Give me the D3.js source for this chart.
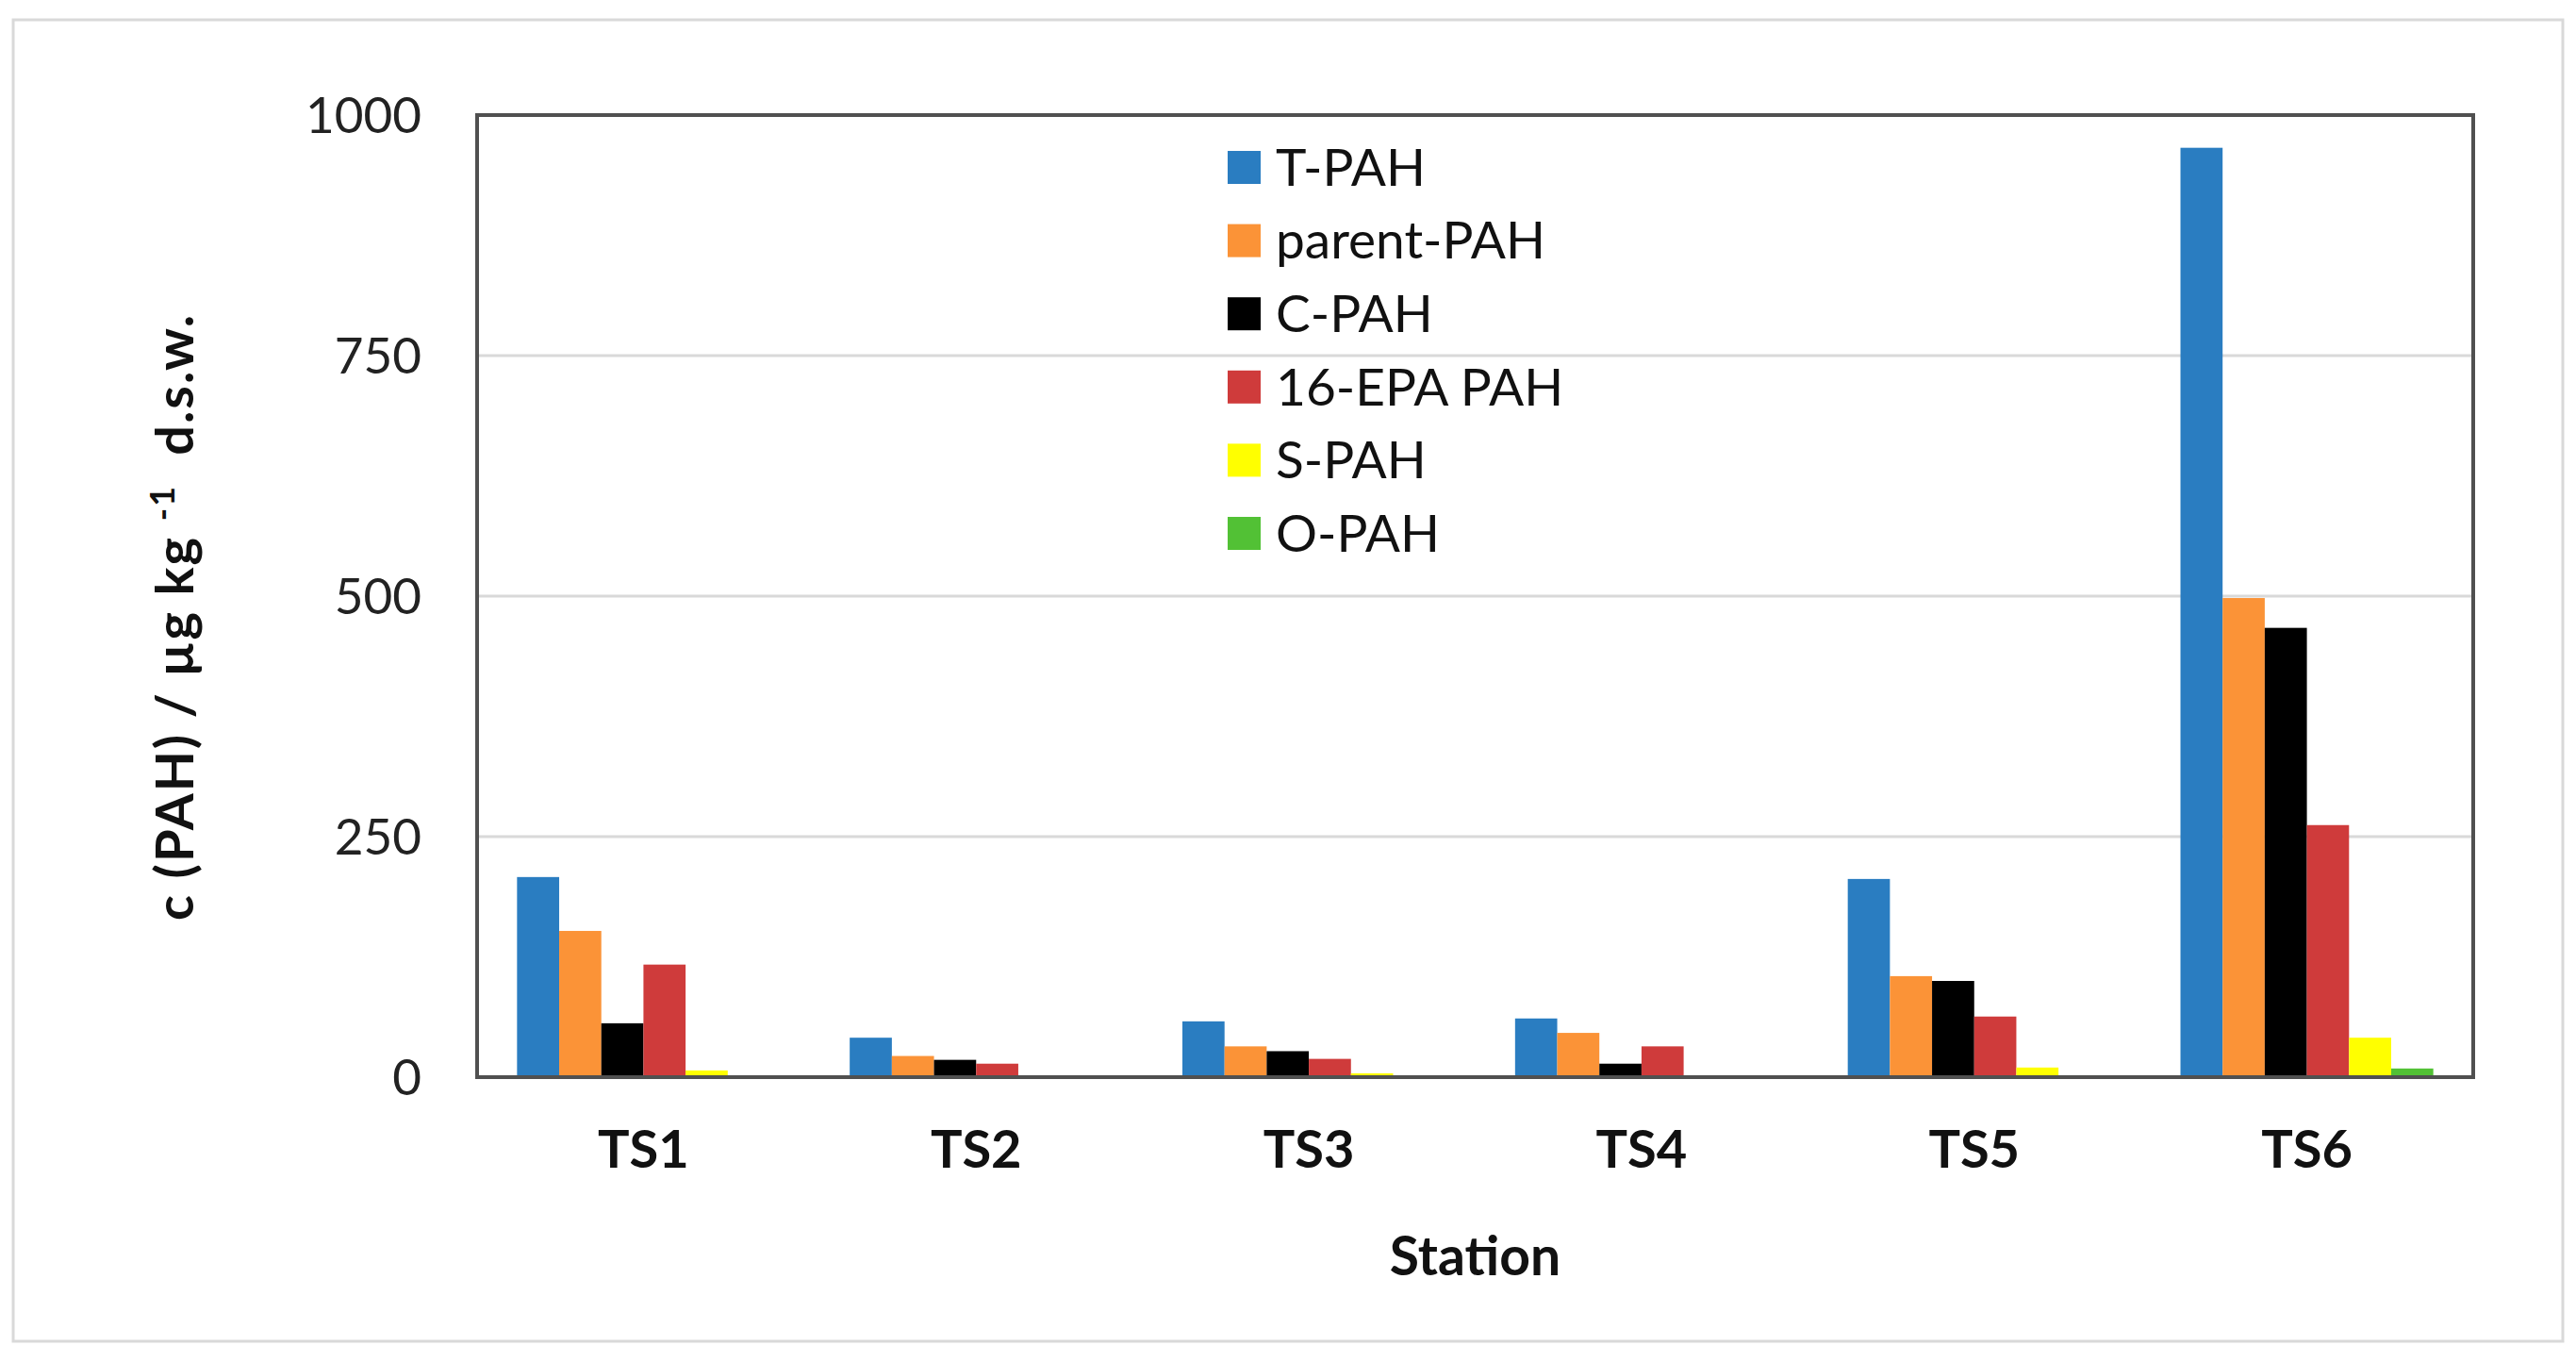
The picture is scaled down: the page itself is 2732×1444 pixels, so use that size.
<!DOCTYPE html>
<html><head><meta charset="utf-8">
<script src="https://cdn.jsdelivr.net/npm/d3@7"></script>
<style>html,body{margin:0;padding:0;background:#fff;}svg{display:block;}</style>
</head><body>
<script>
const stations = ["TS1","TS2","TS3","TS4","TS5","TS6"];
const seriesNames = ["T-PAH","parent-PAH","C-PAH","16-EPA PAH","S-PAH","O-PAH"];
const seriesColors = ["#2a7dc1","#fb9337","#000000","#cf3b3b","#ffff00","#52c135"];
const tPAH = [208, 41, 58, 61, 206, 966];
const parentPAH = [152, 22, 32, 46, 105, 498];
const cPAH = [56, 18, 27, 14, 100, 467];
const epaPAH = [117, 14, 19, 32, 63, 262];
const sPAH = [7, 1, 4, 1, 10, 41];
const oPAH = [1, 0.5, 1, 0.5, 2, 9];
const yTicks = [0, 250, 500, 750, 1000];

const seriesValues = [tPAH, parentPAH, cPAH, epaPAH, sPAH, oPAH];

const W = 2732, H = 1444;
const m = {left: 506, right: 2623, top: 122, bottom: 1142};
const font = "Lato, 'Open Sans', sans-serif";

const svg = d3.select("body").append("svg").attr("width", W).attr("height", H);

// outer frame
svg.append("rect").attr("x", 14).attr("y", 21).attr("width", 2704).attr("height", 1401)
  .attr("fill", "#fff").attr("stroke", "#d9d9d9").attr("stroke-width", 3);

const x0 = d3.scaleBand().domain(stations).range([m.left, m.right]).paddingInner(0.24).paddingOuter(0.12);
const x1 = d3.scaleBand().domain(seriesNames).range([0, x0.bandwidth()]);
const y = d3.scaleLinear().domain([0, 1000]).range([m.bottom, m.top]);

// gridlines
svg.append("g").selectAll("line").data(yTicks.filter(t => t > 0 && t < 1000)).join("line")
  .attr("x1", m.left).attr("x2", m.right)
  .attr("y1", d => y(d)).attr("y2", d => y(d))
  .attr("stroke", "#d9d9d9").attr("stroke-width", 3);

// bars
const groups = svg.append("g").selectAll("g").data(stations).join("g")
  .attr("transform", d => `translate(${x0(d)},0)`);
groups.selectAll("rect")
  .data((st, i) => seriesNames.map((s, j) => ({s, j, v: seriesValues[j][i]})))
  .join("rect")
  .attr("x", d => x1(d.s)).attr("width", x1.bandwidth())
  .attr("y", d => y(d.v)).attr("height", d => y(0) - y(d.v))
  .attr("fill", d => seriesColors[d.j]);

// plot frame
svg.append("rect").attr("x", m.left).attr("y", m.top)
  .attr("width", m.right - m.left).attr("height", m.bottom - m.top)
  .attr("fill", "none").attr("stroke", "#505050").attr("stroke-width", 4);

// y axis
const yAxis = d3.axisLeft(y).tickValues(yTicks).tickSize(0).tickPadding(59).tickFormat(d3.format("d"));
const ya = svg.append("g").attr("transform", `translate(${m.left},0)`).call(yAxis);
ya.select(".domain").remove();
ya.selectAll("text").attr("font-family", font).attr("font-size", 53).attr("fill", "#222").attr("dy", "0.35em");

// x axis
const xAxis = d3.axisBottom(x0).tickSize(0).tickPadding(56);
const xa = svg.append("g").attr("transform", `translate(0,${m.bottom})`).call(xAxis);
xa.select(".domain").remove();
xa.selectAll("text").attr("font-family", font).attr("font-size", 56).attr("font-weight", "bold").attr("fill", "#111");

// x title
svg.append("text").attr("x", (m.left + m.right) / 2).attr("y", 1352)
  .attr("text-anchor", "middle").attr("font-family", font).attr("font-size", 57)
  .attr("font-weight", "bold").attr("fill", "#111").text("Station");

// y title
const yt = svg.append("text").attr("transform", `translate(205,654) rotate(-90)`)
  .attr("text-anchor", "middle").attr("font-family", font).attr("font-size", 56)
  .attr("letter-spacing", 2)
  .attr("font-weight", "bold").attr("fill", "#111");
yt.append("tspan").text("c (PAH) / µg kg ");
yt.append("tspan").attr("font-size", 36).attr("dy", -20).text("-1");
yt.append("tspan").attr("dy", 20).text("\u00a0 d.s.w.");

// legend
const lg = svg.append("g").selectAll("g").data(seriesNames).join("g")
  .attr("transform", (d, i) => `translate(1302,${177 + i * 77.6})`);
lg.append("rect").attr("x", 0).attr("y", -17).attr("width", 35).attr("height", 35)
  .attr("fill", (d, i) => seriesColors[i]);
lg.append("text").attr("x", 51).attr("y", 0).attr("dy", "0.36em")
  .attr("font-family", font).attr("font-size", 55).attr("fill", "#111").text(d => d);
</script>
</body></html>
